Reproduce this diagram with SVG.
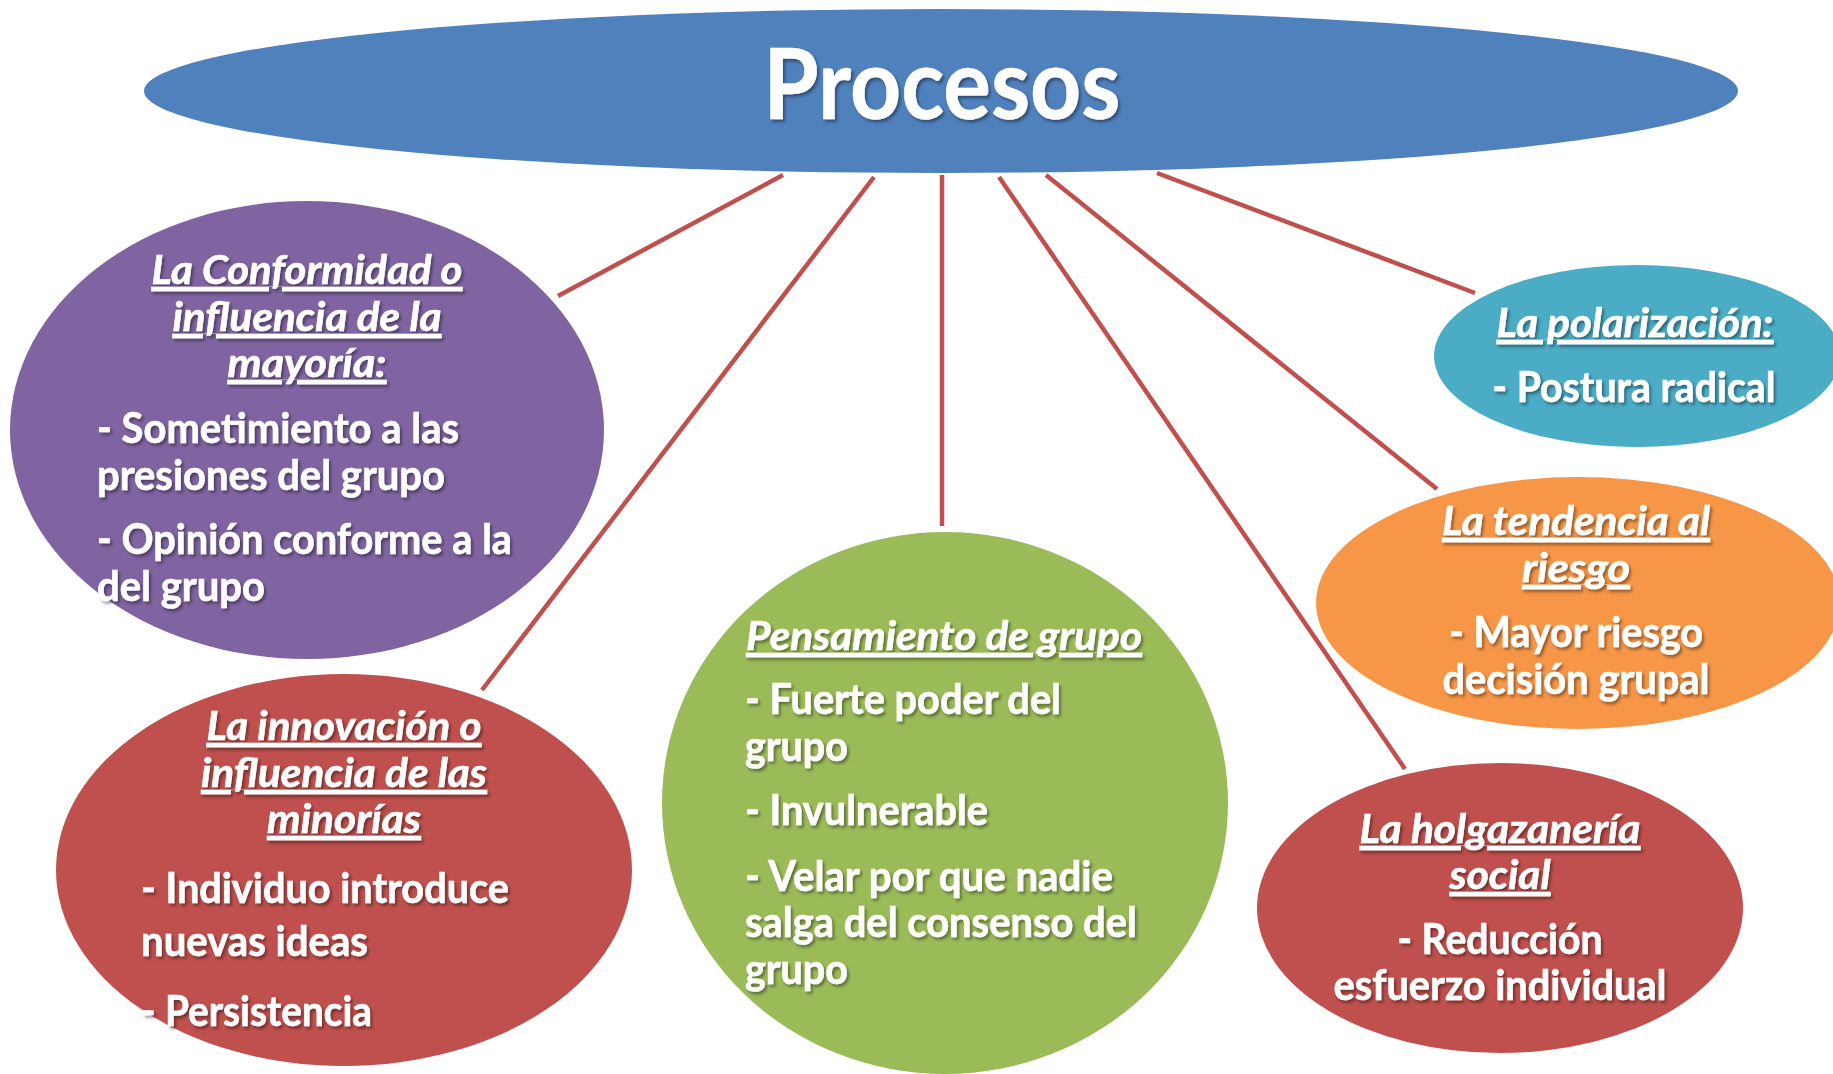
<svg xmlns="http://www.w3.org/2000/svg" width="1833" height="1074" viewBox="0 0 1833 1074">
<defs>
<filter id="ts" x="-10%" y="-30%" width="120%" height="160%">
<feDropShadow dx="2" dy="2.5" stdDeviation="1.5" flood-color="#000" flood-opacity="0.4"/>
</filter>
<style>
.conn line{stroke:#c0504d;stroke-width:4.5;stroke-linecap:butt}
text{font-family:Lato,"Open Sans","Liberation Sans",sans-serif;font-weight:bold;fill:#fff;filter:url(#ts);stroke:#fff;stroke-width:0.6px}
.h{font-style:italic;text-decoration:underline;font-size:41px;text-anchor:middle}
.b{font-size:42px}
.c{text-anchor:middle}
</style>
</defs>
<rect width="1833" height="1074" fill="#fff"/>
<g id="connectors" class="conn">
<line x1="783" y1="175" x2="558" y2="296"/>
<line x1="874" y1="177" x2="482" y2="690"/>
<line x1="942" y1="175" x2="942" y2="526"/>
<line x1="999" y1="177" x2="1405" y2="769"/>
<line x1="1046" y1="175" x2="1437" y2="489"/>
<line x1="1157" y1="173" x2="1475" y2="293"/>
</g>
<g id="procesos">
<ellipse cx="941" cy="91" rx="797" ry="82" fill="#4f81bd"/>
<text x="942" y="119" font-size="98" text-anchor="middle" textLength="357" lengthAdjust="spacingAndGlyphs">Procesos</text>
</g>
<g id="conformidad">
<ellipse cx="307" cy="430" rx="297" ry="229" fill="#8064a2"/>
<text class="h" x="307" y="284" textLength="311" lengthAdjust="spacingAndGlyphs">La Conformidad o</text>
<text class="h" x="307" y="331" textLength="269" lengthAdjust="spacingAndGlyphs">influencia de la</text>
<text class="h" x="307" y="377" textLength="159" lengthAdjust="spacingAndGlyphs">mayoría:</text>
<text class="b" x="97" y="443" textLength="362" lengthAdjust="spacingAndGlyphs">- Sometimiento a las</text>
<text class="b" x="97" y="490" textLength="348" lengthAdjust="spacingAndGlyphs">presiones del grupo</text>
<text class="b" x="97" y="554" textLength="415" lengthAdjust="spacingAndGlyphs">- Opinión conforme a la</text>
<text class="b" x="97" y="601" textLength="168" lengthAdjust="spacingAndGlyphs">del grupo</text>
</g>
<g id="innovacion">
<ellipse cx="344" cy="870" rx="288" ry="196" fill="#c0504d"/>
<text class="h" x="344" y="740" textLength="275" lengthAdjust="spacingAndGlyphs">La innovación o</text>
<text class="h" x="344" y="787" textLength="286" lengthAdjust="spacingAndGlyphs">influencia de las</text>
<text class="h" x="344" y="833" textLength="154" lengthAdjust="spacingAndGlyphs">minorías</text>
<text class="b" x="141" y="903" textLength="368" lengthAdjust="spacingAndGlyphs">- Individuo introduce</text>
<text class="b" x="141" y="956" textLength="227" lengthAdjust="spacingAndGlyphs">nuevas ideas</text>
<text class="b" x="141" y="1026" textLength="231" lengthAdjust="spacingAndGlyphs">- Persistencia</text>
</g>
<g id="pensamiento">
<ellipse cx="945" cy="803" rx="283" ry="271" fill="#9bbb59"/>
<text class="h" x="944" y="650" textLength="396" lengthAdjust="spacingAndGlyphs">Pensamiento de grupo</text>
<text class="b" x="745" y="714" textLength="316" lengthAdjust="spacingAndGlyphs">- Fuerte poder del</text>
<text class="b" x="745" y="761" textLength="103" lengthAdjust="spacingAndGlyphs">grupo</text>
<text class="b" x="745" y="825" textLength="243" lengthAdjust="spacingAndGlyphs">- Invulnerable</text>
<text class="b" x="745" y="891" textLength="368" lengthAdjust="spacingAndGlyphs">- Velar por que nadie</text>
<text class="b" x="745" y="937" textLength="392" lengthAdjust="spacingAndGlyphs">salga del consenso del</text>
<text class="b" x="745" y="984" textLength="103" lengthAdjust="spacingAndGlyphs">grupo</text>
</g>
<g id="polarizacion">
<ellipse cx="1637" cy="356" rx="203" ry="91" fill="#4bacc6"/>
<text class="h" x="1635" y="337" textLength="277" lengthAdjust="spacingAndGlyphs">La polarización:</text>
<text class="b c" x="1634" y="402" textLength="283" lengthAdjust="spacingAndGlyphs">- Postura radical</text>
</g>
<g id="tendencia">
<ellipse cx="1578" cy="603" rx="262" ry="126" fill="#f79646"/>
<text class="h" x="1576" y="535" textLength="268" lengthAdjust="spacingAndGlyphs">La tendencia al</text>
<text class="h" x="1576" y="582" textLength="108" lengthAdjust="spacingAndGlyphs">riesgo</text>
<text class="b c" x="1576" y="647" textLength="254" lengthAdjust="spacingAndGlyphs">- Mayor riesgo</text>
<text class="b c" x="1576" y="694" textLength="267" lengthAdjust="spacingAndGlyphs">decisión grupal</text>
</g>
<g id="holgazaneria">
<ellipse cx="1500" cy="908" rx="243" ry="145" fill="#c0504d"/>
<text class="h" x="1500" y="843" textLength="281" lengthAdjust="spacingAndGlyphs">La holgazanería</text>
<text class="h" x="1500" y="889" textLength="101" lengthAdjust="spacingAndGlyphs">social</text>
<text class="b c" x="1500" y="954" textLength="205" lengthAdjust="spacingAndGlyphs">- Reducción</text>
<text class="b c" x="1500" y="1000" textLength="333" lengthAdjust="spacingAndGlyphs">esfuerzo individual</text>
</g>
</svg>
